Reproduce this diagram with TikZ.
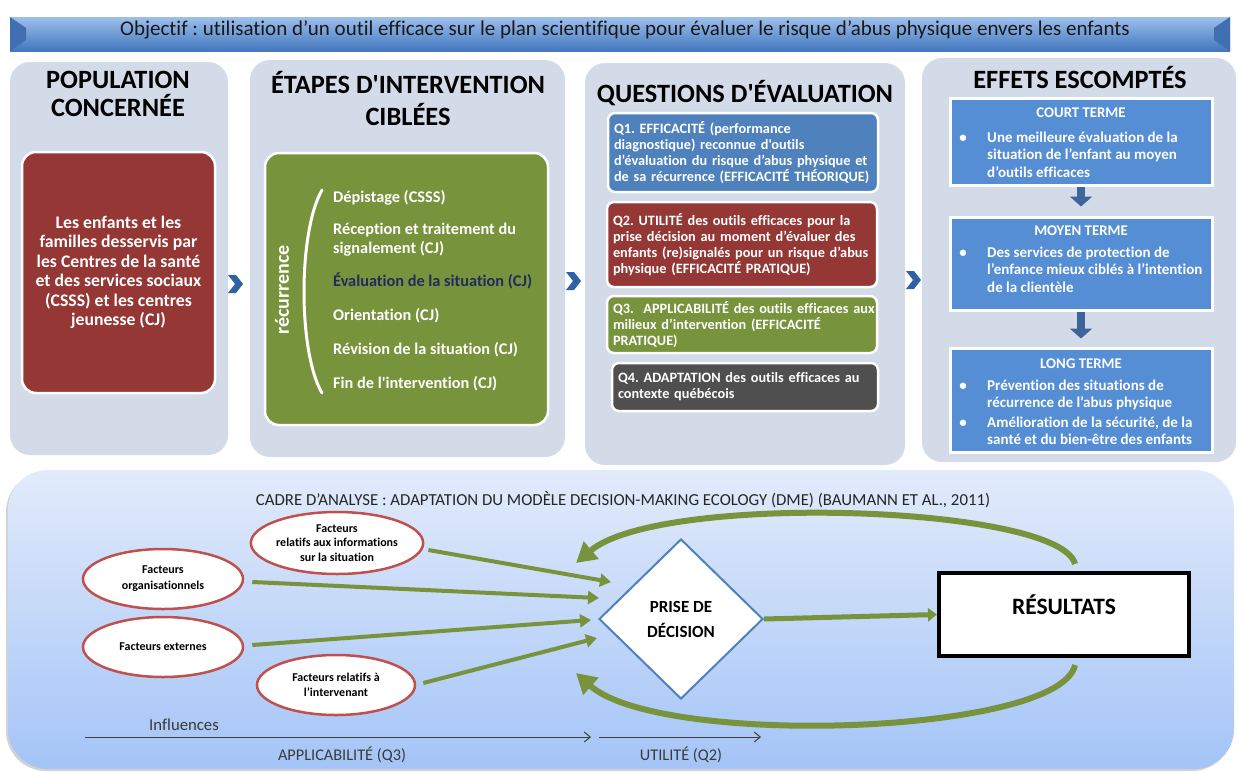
\documentclass[tikz,border=0pt]{standalone}
\usepackage{fontspec}
\setmainfont{Carlito}[Ligatures={TeXOff,NoCommon}]
\usetikzlibrary{shapes.geometric,arrows.meta,calc,shadows}
\definecolor{panelc}{HTML}{D3DAE8}
\definecolor{dred}{HTML}{953735}
\definecolor{ogreen}{HTML}{77933C}
\definecolor{qblue}{HTML}{4F81BD}
\definecolor{qgray}{HTML}{4F4F4F}
\definecolor{eblue}{HTML}{558ED5}
\definecolor{chevc}{HTML}{2F62A3}
\definecolor{navyc}{HTML}{1F2D5E}
\definecolor{ellred}{HTML}{C0504D}
\definecolor{darrowc}{HTML}{3C659A}
\definecolor{axisc}{HTML}{404040}
\definecolor{labelc}{HTML}{3A3A3A}
\definecolor{diamc}{HTML}{4F81BD}
\definecolor{bevelc}{HTML}{3F6FB0}
\begin{document}
\frenchspacing
\begin{tikzpicture}[x=1pt,y=-1pt,
  panel/.style={fill=panelc, rounded corners=20pt},
  head/.style={font=\fontsize{26.4}{28}\selectfont\bfseries, align=center, inner sep=0pt},
  colbox/.style={draw=white, line width=2.5pt, rounded corners=14pt, text=white},
  stepitem/.style={font=\fontsize{16.3}{19}\selectfont\bfseries, text=white, anchor=base west, inner sep=0pt, align=left},
  qbox/.style={draw=white, line width=2.5pt, rounded corners=7pt, text=white, font=\fontsize{14.3}{16}\selectfont\bfseries, align=left, text width=258pt, minimum width=270pt, inner xsep=6pt},
  ebox/.style={fill=eblue, draw=white, line width=3pt, minimum width=262pt},
  etitle/.style={font=\fontsize{14.8}{16}\selectfont\bfseries, text=white, inner sep=0pt},
  etext/.style={font=\fontsize{15}{17.5}\selectfont\bfseries, text=white, anchor=base west, inner sep=0pt, align=left},
  ebullet/.style={font=\fontsize{15}{17.5}\selectfont\bfseries, text=white, anchor=base, inner sep=0pt},
  factor/.style={ellipse, draw=ellred, line width=2.5pt, fill=white, minimum width=160pt, minimum height=60pt, inner sep=0pt, font=\fontsize{12}{14.5}\selectfont\bfseries, align=center},
  infl/.style={draw=ogreen, line width=4pt, -{Triangle[length=11pt,width=13pt]}},
  fbloop/.style={draw=ogreen, line width=6pt, -{Triangle[length=20pt,width=22pt]}},
  darrow/.style={draw=darrowc, line width=8pt, -{Triangle[length=10pt,width=22pt]}},
  axisline/.style={draw=axisc, line width=1pt, -{Straight Barb[length=6pt,width=10pt]}},
  axlabel/.style={font=\fontsize{16.3}{18}\selectfont, text=labelc, inner sep=0pt},
]
\useasboundingbox (0,0) rectangle (1238,771);

% ---------- title bar
\shade[top color={rgb,255:red,157;green,191;blue,236}, middle color={rgb,255:red,94;green,147;blue,216}, bottom color={rgb,255:red,67;green,119;blue,191}] (10,17) rectangle (1230,51);
\fill[bevelc] (10,17) -- (26,28) -- (26,40) -- (10,51) -- cycle;
\fill[bevelc] (1230,17) -- (1214,28) -- (1214,40) -- (1230,51) -- cycle;
\node[font=\fontsize{21}{22}\selectfont, text=black!90, inner sep=0pt] (title) at (625,30) {Objectif : utilisation d’un outil efficace sur le plan scientifique pour évaluer le risque d’abus physique envers les enfants};

% ---------- panels
\fill[panel] (10,62) rectangle (228,455);
\fill[panel] (250,60) rectangle (565,457);
\fill[panel] (585,63) rectangle (905,465);
\fill[panel] (922,58) rectangle (1236,462);

\node[head] (h1) at (118,94) {POPULATION\\CONCERNÉE};
\node[head, font=\fontsize{26.4}{32}\selectfont\bfseries] (h2) at (408,99) {ÉTAPES D'INTERVENTION\\CIBLÉES};
\node[head] (h3) at (745,93) {QUESTIONS D'ÉVALUATION};
\node[head] (h4) at (1080,78) {EFFETS ESCOMPTÉS};

% ---------- column 1
\node[colbox, fill=dred, minimum width=193pt, minimum height=241pt, font=\fontsize{17.7}{19.5}\selectfont\bfseries, align=center] (pop) at (118.5,272.5) {Les enfants et les\\familles desservis par\\les Centres de la santé\\et des services sociaux\\(CSSS) et les centres\\jeunesse (CJ)};

% ---------- column 2
\node[colbox, fill=ogreen, minimum width=283pt, minimum height=272pt] (steps) at (406.5,289) {};
\draw[white, line width=3pt, line cap=round] (322,190) .. controls (298,232) and (298,352) .. (322,393);
\node[rotate=90, font=\fontsize{20}{22}\selectfont\bfseries, text=white, inner sep=0pt] (rec) at (282,290) {récurrence};
\node[stepitem] (s1) at (333,202) {Dépistage (CSSS)};
\node[stepitem] (s2) at (333,253) {Réception et traitement du\\signalement (CJ)};
\node[stepitem, text=navyc] (s3) at (333,286) {Évaluation de la situation (CJ)};
\node[stepitem] (s4) at (333,320) {Orientation (CJ)};
\node[stepitem] (s5) at (333,354) {Révision de la situation (CJ)};
\node[stepitem] (s6) at (333,388) {Fin de l'intervention (CJ)};

% ---------- column 3
\node[qbox, fill=qblue, minimum height=79pt] (q1) at (743,152.5) {Q1. EFFICACITÉ (performance\\diagnostique) reconnue d'outils\\d’évaluation du risque d’abus physique et\\de sa récurrence (EFFICACITÉ THÉORIQUE)};
\node[qbox, fill=dred, minimum height=85pt] (q2) at (742,244.5) {\makebox[258pt][s]{Q2. UTILITÉ des outils efficaces pour la}\\\makebox[258pt][s]{prise décision au moment d’évaluer des}\\\makebox[258pt][s]{enfants (re)signalés pour un risque d’abus}\\physique (EFFICACITÉ PRATIQUE)};
\node[qbox, fill=ogreen, minimum height=57pt] (q3) at (742,324.5) {\mbox{Q3.\ \ APPLICABILITÉ des outils efficaces aux}\\milieux d’intervention (EFFICACITÉ\\PRATIQUE)};
\node[qbox, fill=qgray, minimum height=48pt, minimum width=266pt, text width=254pt] (q4) at (745,387) {\makebox[254pt][s]{Q4. ADAPTATION des outils efficaces au}\\contexte québécois};

% ---------- column 4
\node[ebox, minimum height=87pt] (b1) at (1081,141.5) {};
\node[ebox, minimum height=93pt] (b2) at (1081,263.5) {};
\node[ebox, minimum height=104pt] (b3) at (1081,400) {};
\node[etitle] (t1) at (1081,113) {COURT TERME};
\node[etitle] (t2) at (1081,231) {MOYEN TERME};
\node[etitle] (t3) at (1081,364) {LONG TERME};
\node[ebullet] (u1) at (963,142) {\textbullet};
\node[etext] (x1) at (987,177) {Une meilleure évaluation de la\\situation de l’enfant au moyen\\d’outils efficaces};
\node[ebullet] (u2) at (963,257) {\textbullet};
\node[etext] (x2) at (987,292) {Des services de protection de\\l’enfance mieux ciblés à l’intention\\de la clientèle};
\node[ebullet] (u3) at (963,390) {\textbullet};
\node[etext] (x3) at (987,407.5) {Prévention des situations de\\récurrence de l’abus physique};
\node[ebullet] (u4) at (963,427) {\textbullet};
\node[etext] (x4) at (987,444.5) {Amélioration de la sécurité, de la\\santé et du bien-être des enfants};
\draw[darrow] (b1.south) -- ([yshift=9pt]b2.north);
\draw[darrow] (b2.south) -- ([yshift=8pt]b3.north);

% ---------- chevrons
\foreach \cx/\cy in {235/284, 573/281, 913/280}{
  \fill[chevc] (\cx-7,\cy-9) -- (\cx+1,\cy-9) -- (\cx+8,\cy) -- (\cx+1,\cy+9) -- (\cx-7,\cy+9) -- (\cx,\cy) -- cycle;
}

% ---------- bottom panel
\shade[drop shadow={shadow xshift=-2pt, shadow yshift=-2pt, opacity=0.35}, rounded corners=40pt, top color={rgb,255:red,226;green,235;blue,251}, bottom color={rgb,255:red,164;green,196;blue,247}] (8,470) rectangle (1234,769);

\node[font=\fontsize{16.8}{18}\selectfont, text=black!85, inner sep=0pt] (ctitle) at (623,500) {CADRE D’ANALYSE : ADAPTATION DU MODÈLE DECISION-MAKING ECOLOGY (DME) (BAUMANN ET AL., 2011)};

\node[factor, minimum width=162pt, minimum height=62pt] (e1) at (337,543) {Facteurs\\relatifs aux informations\\sur la situation};
\node[factor, font=\fontsize{12}{16}\selectfont\bfseries] (e2) at (163,579) {Facteurs\\organisationnels};
\node[factor] (e3) at (163,647) {Facteurs externes};
\node[factor, minimum width=158pt] (e4) at (336,685) {Facteurs relatifs à\\l’intervenant};

\node[diamond, draw=diamc, line width=2pt, fill=white, minimum width=164pt, minimum height=160pt, inner sep=0pt, font=\fontsize{17}{25}\selectfont\bfseries, align=center] (dec) at (681,619) {PRISE DE\\DÉCISION};
\node[draw=black, line width=4pt, fill=white, minimum width=250pt, minimum height=83pt, font=\fontsize{23.5}{26}\selectfont\bfseries, text depth=19pt] (res) at (1064,614.5) {RÉSULTATS};

\coordinate (in1) at (611,582);
\coordinate (in2) at (599,598);
\coordinate (in3) at (591,620);
\coordinate (in4) at (597,638);
\draw[infl] ($(e1.east)+(4,7)$) -- (in1);
\draw[infl] ($(e2.east)+(8,3)$) -- (in2);
\draw[infl] ($(e3.east)+(8,-2)$) -- (in3);
\draw[infl] ($(e4.east)+(7,-2)$) -- (in4);
\draw[infl, line width=5pt, -{Triangle[length=9pt,width=13pt]}] (dec.east) -- (res.west);

\coordinate (fbt) at (576,563);
\coordinate (fbb) at (576,673);
\draw[fbloop] ($(res.north)+(11,-7)$) .. controls (1060,505) and (660,492) .. (fbt);
\draw[fbloop] ($(res.south)+(11,7)$) .. controls (1060,735) and (660,748) .. (fbb);

\coordinate (ax0) at (85,737);
\coordinate (ax1) at (591,737);
\coordinate (ax2) at (599,737);
\coordinate (ax3) at (761,737);
\draw[axisline] (ax0) -- (ax1);
\draw[axisline] (ax2) -- (ax3);
\node[axlabel, font=\fontsize{16.7}{18}\selectfont] (linf) at (184,725) {Influences};
\node[axlabel] (lapp) at (342,755) {APPLICABILITÉ (Q3)};
\node[axlabel] (luti) at (681,755) {UTILITÉ (Q2)};
\end{tikzpicture}
\end{document}
